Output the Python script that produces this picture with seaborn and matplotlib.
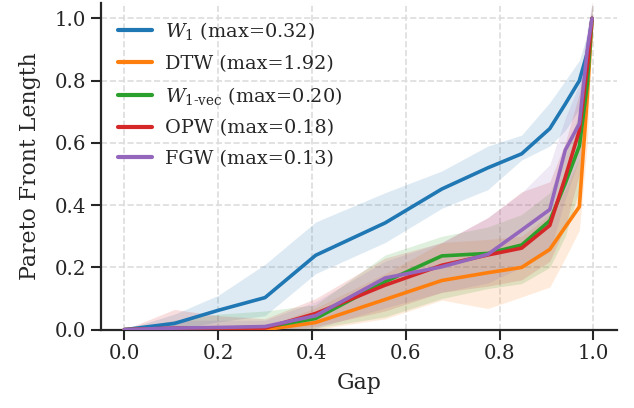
import numpy as np
import pandas as pd
import matplotlib
matplotlib.use("Agg")
import matplotlib.pyplot as plt
import seaborn as sns

# ---------------- data ----------------
gap = [0.0, 0.107, 0.2, 0.3, 0.408, 0.556, 0.677, 0.775, 0.847, 0.907, 0.94, 0.97, 0.987, 0.997]

methods = ["W1", "DTW", "W1vec", "OPW", "FGW"]
labels = [r"$W_1$ (max=0.32)", "DTW (max=1.92)", r"$W_{\text{1-vec}}$ (max=0.20)",
          "OPW (max=0.18)", "FGW (max=0.13)"]

w1_mean = [0, 0.02, 0.062, 0.103, 0.239, 0.343, 0.452, 0.52, 0.565, 0.646, 0.725, 0.80, 0.89, 1.0]
w1_low = [0, 0.0, 0.025, 0.045, 0.18, 0.28, 0.39, 0.45, 0.545, 0.59, 0.64, 0.71, 0.82, 0.97]
w1_high = [0, 0.05, 0.11, 0.21, 0.346, 0.44, 0.51, 0.59, 0.625, 0.73, 0.80, 0.865, 0.95, 1.03]

dtw_mean = [0, 0.0, 0.0, 0.0, 0.023, 0.097, 0.158, 0.183, 0.20, 0.258, 0.33, 0.395, 0.75, 1.0]
dtw_low = [0, 0, 0, 0, 0.0, 0.035, 0.095, 0.068, 0.105, 0.137, 0.23, 0.32, 0.6, 0.95]
dtw_high = [0, 0.0, 0.0, 0.01, 0.07, 0.18, 0.28, 0.29, 0.30, 0.37, 0.45, 0.55, 0.85, 1.05]

w1vec_mean = [0, 0.003, 0.005, 0.008, 0.036, 0.154, 0.237, 0.245, 0.272, 0.35, 0.47, 0.59, 0.79, 1.0]
w1vec_low = [0, 0, 0, 0, 0.005, 0.041, 0.10, 0.132, 0.148, 0.2, 0.3, 0.45, 0.7, 0.97]
w1vec_high = [0, 0.03, 0.05, 0.06, 0.08, 0.24, 0.30, 0.33, 0.37, 0.44, 0.56, 0.70, 0.88, 1.05]

opw_mean = [0, 0.005, 0.005, 0.005, 0.052, 0.143, 0.207, 0.24, 0.262, 0.335, 0.49, 0.64, 0.844, 1.0]
opw_low = [0, 0, 0, 0, 0.01, 0.06, 0.12, 0.14, 0.16, 0.22, 0.33, 0.5, 0.72, 0.97]
opw_high = [0, 0.065, 0.045, 0.035, 0.10, 0.23, 0.28, 0.36, 0.443, 0.475, 0.60, 0.76, 0.92, 1.05]

fgw_mean = [0, 0.005, 0.007, 0.01, 0.045, 0.166, 0.202, 0.242, 0.32, 0.386, 0.577, 0.662, 0.90, 1.0]
fgw_low = [0, 0, 0, 0, 0.005, 0.07, 0.12, 0.15, 0.2, 0.25, 0.42, 0.55, 0.8, 0.97]
fgw_high = [0, 0.03, 0.03, 0.03, 0.09, 0.22, 0.28, 0.36, 0.44, 0.53, 0.68, 0.79, 0.97, 1.05]

means = [w1_mean, dtw_mean, w1vec_mean, opw_mean, fgw_mean]
lows = [w1_low, dtw_low, w1vec_low, opw_low, fgw_low]
highs = [w1_high, dtw_high, w1vec_high, opw_high, fgw_high]

# ---------------- style ----------------
sns.set_style("ticks")
plt.rcParams["font.family"] = ["DejaVu Serif"]
plt.rcParams["mathtext.fontset"] = "dejavuserif"

palette = sns.color_palette("tab10", 5)

rows = []
for lab, m in zip(labels, means):
    for g, v in zip(gap, m):
        rows.append({"Gap": g, "value": v, "method": lab})
df = pd.DataFrame(rows)

fig = plt.figure(figsize=(6.34, 4.08), dpi=100)
ax = fig.add_axes([0.159, 0.192, 0.814, 0.801])

for col, lo, hi in zip(palette, lows, highs):
    ax.fill_between(gap, lo, hi, color=col, alpha=0.15, linewidth=0, zorder=1)

sns.lineplot(data=df, x="Gap", y="value", hue="method", hue_order=labels,
             palette=palette, linewidth=2.6, ax=ax, zorder=3, errorbar=None)

ax.set_xlim(-0.05, 1.05)
ax.set_ylim(0, 1.05)
ax.set_xticks([0.0, 0.2, 0.4, 0.6, 0.8, 1.0])
ax.set_yticks([0.0, 0.2, 0.4, 0.6, 0.8, 1.0])
ax.set_xlabel("Gap", fontsize=15.8, labelpad=6.5)
ax.set_ylabel("Pareto Front Length", fontsize=15.8, labelpad=10)
ax.tick_params(labelsize=14.2, length=7, width=1.5)
for s in ["left", "bottom"]:
    ax.spines[s].set_linewidth(1.6)
sns.despine(ax=ax)
ax.grid(True, linestyle="--", color="#dddddd", linewidth=1.2)
ax.set_axisbelow(True)

leg = ax.legend(loc="upper left", frameon=False, fontsize=13.9, labelspacing=0.64,
                handlelength=1.75, handletextpad=0.65)
for ln in leg.get_lines():
    ln.set_linewidth(3)

fig.savefig("out.png", dpi=100)
